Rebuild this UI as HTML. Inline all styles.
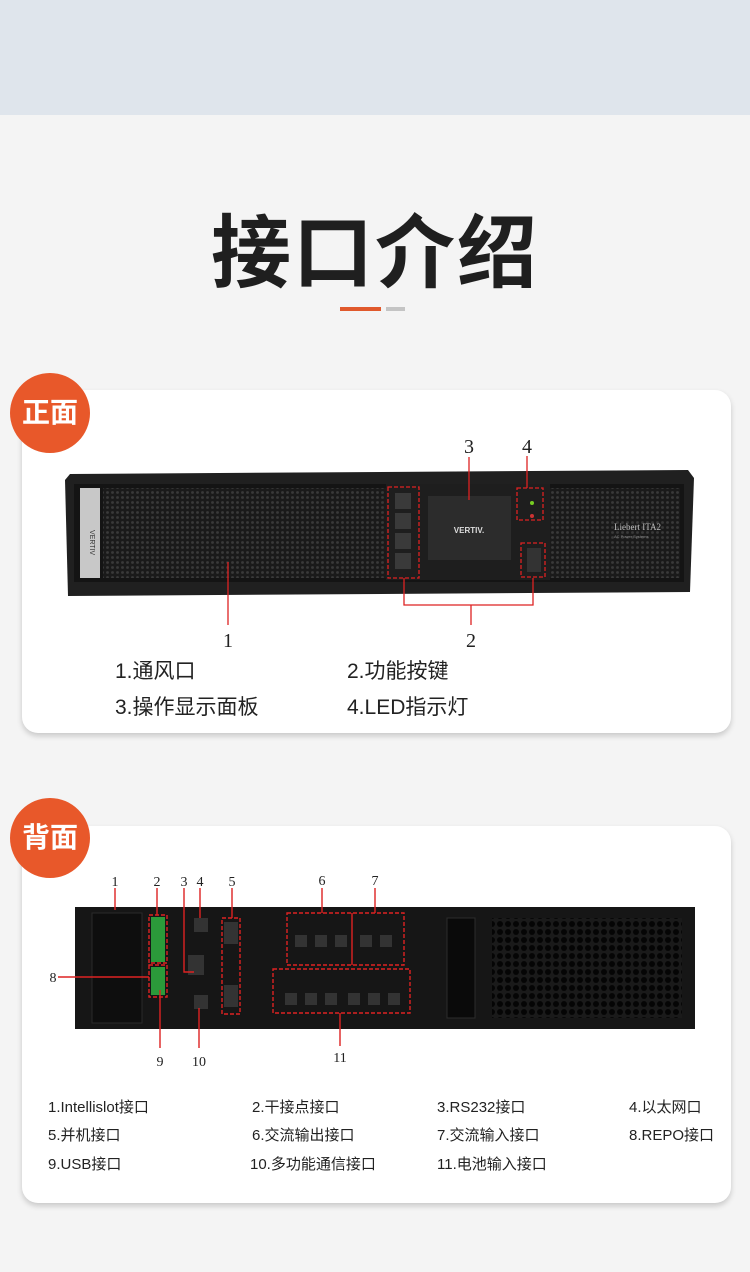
<!DOCTYPE html>
<html><head><meta charset="utf-8">
<style>
html,body{margin:0;padding:0;}
body{width:750px;height:1272px;background:#f4f4f4;position:relative;overflow:hidden;font-family:"Liberation Sans","Noto Sans CJK SC",sans-serif;}
.band{position:absolute;left:0;top:0;width:750px;height:115px;background:#dfe5ec;}
.title{position:absolute;left:0;top:206px;width:750px;text-align:center;font-size:80px;font-weight:bold;color:#1f1f1f;line-height:96px;letter-spacing:2px;}
.card{position:absolute;left:22px;width:709px;background:#fff;border-radius:16px;box-shadow:0 3px 6px rgba(0,0,0,0.18);}
.badge{position:absolute;width:80px;height:80px;border-radius:50%;background:#e8582a;color:#fff;font-weight:bold;font-size:28px;line-height:80px;text-align:center;}
.t{position:absolute;color:#222;white-space:nowrap;}
svg{position:absolute;left:0;top:0;}
</style></head><body>
<div class="band"></div>
<div class="title">接口介绍</div>
<div style="position:absolute;left:340px;top:307px;width:41px;height:4px;background:#e0592c"></div>
<div style="position:absolute;left:386px;top:307px;width:19px;height:4px;background:#c4c4c4"></div>

<div class="card" style="top:390px;height:343px"></div>
<div class="card" style="top:826px;height:377px"></div>

<svg width="750" height="1272" viewBox="0 0 750 1272">
<defs>
<pattern id="h" width="5" height="5" patternUnits="userSpaceOnUse"><rect width="5" height="5" fill="#1a1a1a"/><circle cx="2.5" cy="2.5" r="1.4" fill="#3a3a3a"/></pattern>
<pattern id="h2" width="8" height="8" patternUnits="userSpaceOnUse"><rect width="8" height="8" fill="#1a1a1a"/><circle cx="4" cy="4" r="3" fill="#050505"/></pattern>
</defs>
<!-- front device -->
<path d="M70 474 L688 470 L694 478 L690 592 L68 596 L65 480 Z" fill="#202020"/>
<rect x="74" y="484" width="610" height="98" fill="#141414"/>
<rect x="103" y="488" width="283" height="90" fill="url(#h)"/>
<rect x="550" y="488" width="130" height="90" fill="url(#h)"/>
<rect x="80" y="488" width="20" height="90" fill="#c8c8c8"/>
<text x="90" y="530" font-size="7" fill="#333" transform="rotate(90 90 530)" font-family="Liberation Sans">VERTIV</text>
<rect x="386" y="484" width="164" height="96" fill="#1e1e1e"/>
<rect x="395" y="493" width="16" height="16" fill="#3a3a3a"/>
<rect x="395" y="513" width="16" height="16" fill="#3a3a3a"/>
<rect x="395" y="533" width="16" height="16" fill="#3a3a3a"/>
<rect x="395" y="553" width="16" height="16" fill="#3a3a3a"/>
<rect x="428" y="496" width="83" height="64" fill="#2c2c2c"/>
<text x="469" y="533" font-size="8" fill="#ddd" text-anchor="middle" font-weight="bold">VERTIV.</text>
<circle cx="532" cy="503" r="2" fill="#7c2"/><circle cx="532" cy="516" r="2" fill="#c33"/>
<rect x="527" y="548" width="14" height="24" fill="#333"/>
<text x="614" y="530" font-size="9" fill="#bbb" font-family="Liberation Serif">Liebert ITA2</text>
<text x="614" y="538" font-size="4" fill="#888">AC Power Systems</text>
<g stroke="#d22" stroke-width="1.3" fill="none">
<rect x="388" y="487" width="31" height="91" stroke-dasharray="4 2"/>
<rect x="517" y="488" width="26" height="32" stroke-dasharray="4 2"/>
<rect x="521" y="543" width="24" height="34" stroke-dasharray="4 2"/>
<path d="M228 562 V625 M404 578 V605 H533 V578 M471 605 V625 M469 457 V500 M527 456 V488"/>
</g>
<g font-family="Liberation Serif" font-size="20" fill="#222" text-anchor="middle">
<text x="228" y="647">1</text><text x="471" y="647">2</text><text x="469" y="453">3</text><text x="527" y="453">4</text>
</g>
<!-- rear device -->
<rect x="75" y="907" width="620" height="122" fill="#161616"/>
<rect x="92" y="913" width="50" height="110" fill="#0e0e0e" stroke="#2a2a2a"/>
<rect x="492" y="918" width="190" height="100" fill="url(#h2)"/>
<rect x="447" y="918" width="28" height="100" fill="#0a0a0a" stroke="#2c2c2c"/>
<g fill="#2b9a3a"><rect x="151" y="917" width="14" height="45"/><rect x="151" y="967" width="14" height="28"/></g>
<rect x="194" y="918" width="14" height="14" fill="#333"/><rect x="194" y="995" width="14" height="14" fill="#333"/>
<rect x="188" y="955" width="16" height="20" fill="#333"/>
<rect x="224" y="922" width="14" height="22" fill="#333"/><rect x="224" y="985" width="14" height="22" fill="#333"/>
<g fill="#333"><rect x="295" y="935" width="12" height="12"/><rect x="315" y="935" width="12" height="12"/><rect x="335" y="935" width="12" height="12"/><rect x="360" y="935" width="12" height="12"/><rect x="380" y="935" width="12" height="12"/>
<rect x="285" y="993" width="12" height="12"/><rect x="305" y="993" width="12" height="12"/><rect x="325" y="993" width="12" height="12"/><rect x="348" y="993" width="12" height="12"/><rect x="368" y="993" width="12" height="12"/><rect x="388" y="993" width="12" height="12"/></g>
<g stroke="#d22" stroke-width="1.4" fill="none">
<g stroke-dasharray="4 2">
<rect x="149" y="915" width="18" height="48"/><rect x="149" y="965" width="18" height="32"/>
<rect x="222" y="918" width="18" height="96"/>
<rect x="287" y="913" width="117" height="52"/>
<rect x="273" y="969" width="137" height="44"/>
</g>
<path d="M115 888 V910 M157 888 V915 M184 888 V972 H194 M200 888 V918 M232 888 V918 M322 888 V913 M375 888 V913 M352 913 V965 M58 977 H149 M160 990 V1048 M199 1008 V1048 M340 1013 V1046"/>
</g>
<g font-family="Liberation Serif" font-size="14" fill="#222" text-anchor="middle">
<text x="115" y="886">1</text><text x="157" y="886">2</text><text x="184" y="886">3</text><text x="200" y="886">4</text><text x="232" y="886">5</text><text x="322" y="885">6</text><text x="375" y="885">7</text><text x="53" y="982">8</text><text x="160" y="1066">9</text><text x="199" y="1066">10</text><text x="340" y="1062">11</text>
</g>
</svg>

<div class="badge" style="left:10px;top:373px">正面</div>
<div class="badge" style="left:10px;top:798px">背面</div>

<div class="t" style="left:115px;top:655px;font-size:21px">1.通风口</div>
<div class="t" style="left:347px;top:655px;font-size:21px">2.功能按键</div>
<div class="t" style="left:115px;top:691px;font-size:21px">3.操作显示面板</div>
<div class="t" style="left:347px;top:691px;font-size:21px">4.LED指示灯</div>

<div style="font-size:15px">
<div class="t" style="left:48px;top:1096px">1.Intellislot接口</div>
<div class="t" style="left:252px;top:1096px">2.干接点接口</div>
<div class="t" style="left:437px;top:1096px">3.RS232接口</div>
<div class="t" style="left:629px;top:1096px">4.以太网口</div>
<div class="t" style="left:48px;top:1124px">5.并机接口</div>
<div class="t" style="left:252px;top:1124px">6.交流输出接口</div>
<div class="t" style="left:437px;top:1124px">7.交流输入接口</div>
<div class="t" style="left:629px;top:1124px">8.REPO接口</div>
<div class="t" style="left:48px;top:1153px">9.USB接口</div>
<div class="t" style="left:250px;top:1153px">10.多功能通信接口</div>
<div class="t" style="left:437px;top:1153px">11.电池输入接口</div>
</div>
</body></html>
